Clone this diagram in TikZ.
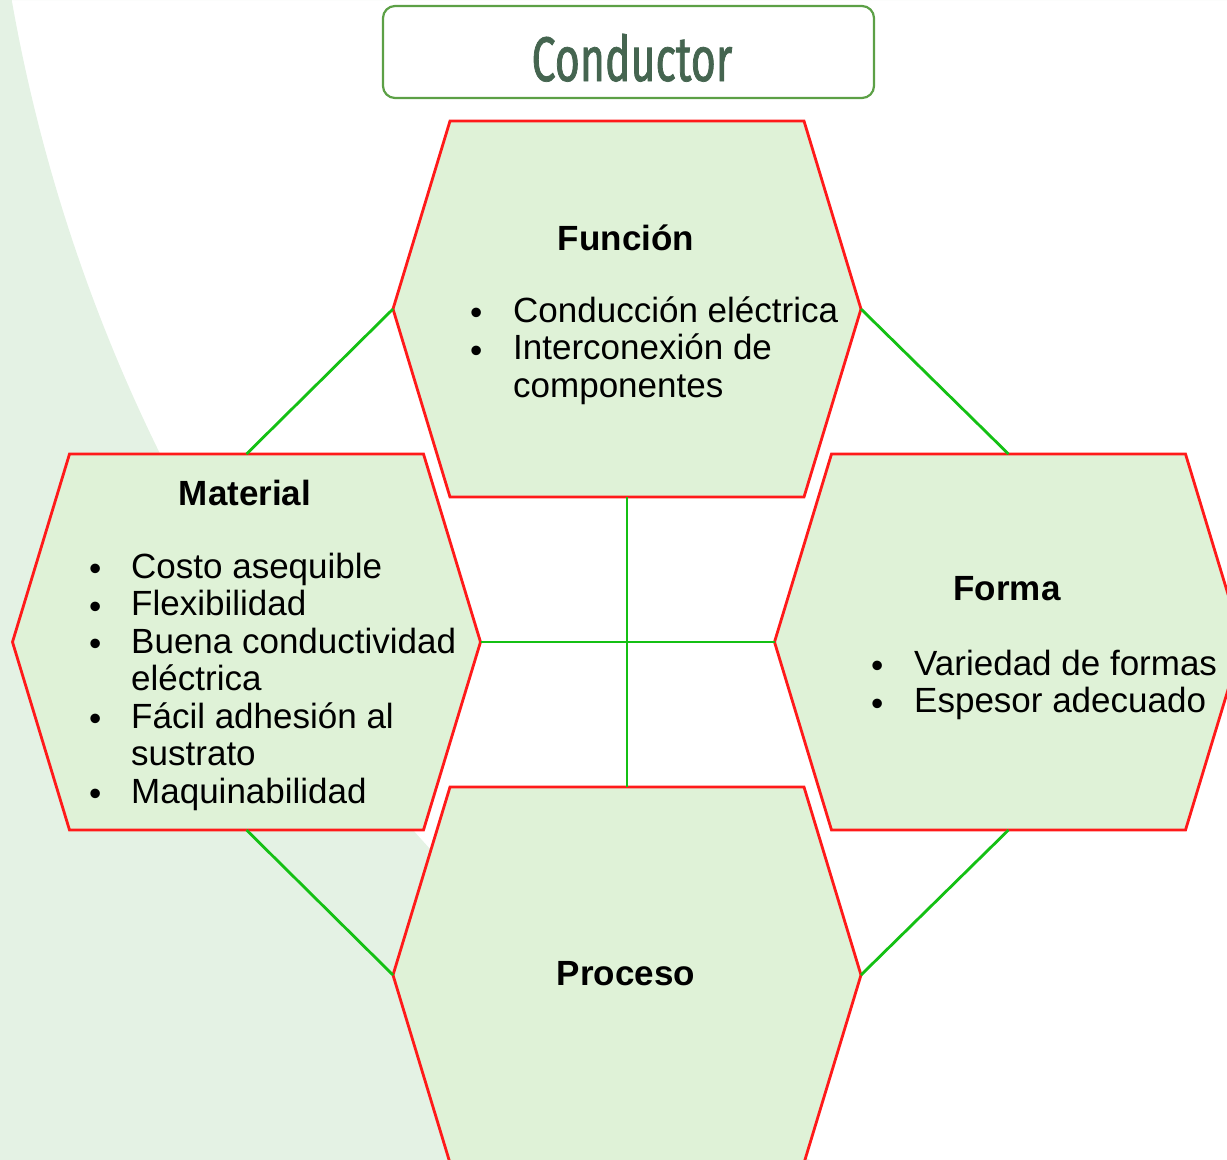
\documentclass[tikz,border=0pt]{standalone}
\usepackage{fontspec}
\usepackage{xcolor}
\setmainfont{Liberation Sans}
\newfontfamily\titlefont[FakeStretch=0.68, FakeBold=1.2]{Fira Sans}

\definecolor{bgshade}{HTML}{E4F2E4}
\definecolor{hexfill}{HTML}{DFF2D7}
\definecolor{hexred}{HTML}{FF1A1A}
\definecolor{linkgreen}{HTML}{14C014}
\definecolor{titlegreen}{HTML}{5CA046}
\definecolor{titleink}{HTML}{456550}

\tikzset{
  hexcell/.style={draw=hexred, fill=hexfill, line width=2.8pt, line join=miter},
  link/.style={draw=linkgreen, line width=2.8pt},
  titlebox/.style={draw=titlegreen, line width=2.2pt, rounded corners=12pt, minimum width=491pt, minimum height=92pt},
  titletxt/.style={font=\titlefont\fontsize{63}{66}\selectfont, text=titleink, anchor=base, inner sep=0},
  headtxt/.style={font=\bfseries\fontsize{35}{38}\selectfont, anchor=base, inner sep=0},
  listtxt/.style={font=\fontsize{35}{37.5}\selectfont, anchor=base west, inner sep=0, align=left},
}

% round bullet, set a little low
\newcommand{\dotmark}{\raisebox{-2.5pt}{\textbullet}}

% hexagon: name, centre x, centre y
\newcommand{\hexcell}[3]{%
  \draw[hexcell] (#2-234,#3) -- (#2-177,#3-188) -- (#2+177,#3-188) -- (#2+234,#3)
    -- (#2+177,#3+188) -- (#2-177,#3+188) -- cycle;
  \coordinate (#1-l) at (#2-234,#3);
  \coordinate (#1-r) at (#2+234,#3);
  \coordinate (#1-t) at (#2,#3-188);
  \coordinate (#1-b) at (#2,#3+188);
}

\begin{document}
\begin{tikzpicture}[x=1pt, y=-1pt]
  \useasboundingbox (0,0) rectangle (1227,1160);
  \clip (0,0) rectangle (1227,1160);

  % Background sweep
  \fill[bgshade, even odd rule] (0,0) rectangle (1227,1160) (1684,-296) circle[radius=1698pt];

  % Title
  \node[titlebox] (title) at (628.5,52) {};
  \node[titletxt] (title-txt) at (632,81) {Conductor};

  % Cells
  \hexcell{fun}{627}{309}
  \hexcell{mat}{246.5}{642}
  \hexcell{for}{1008.5}{642}
  \hexcell{pro}{627}{975}

  % Connectors
  \draw[link] (fun-l) -- (mat-t);
  \draw[link] (fun-r) -- (for-t);
  \draw[link] (fun-b) -- (pro-t);
  \draw[link] (mat-r) -- (for-l);
  \draw[link] (mat-b) -- (pro-l);
  \draw[link] (for-b) -- (pro-r);

  % Función
  \node[headtxt] (fun-head) at (626,250) {Función};
  \node[listtxt] (fun-list) at (470,322) {\begin{tabular}[t]{@{}p{43pt}@{}l@{}}
    \dotmark & Conducción eléctrica\\
    \dotmark & Interconexión de\\
             & componentes
  \end{tabular}};

  % Material
  \node[headtxt] (mat-head) at (245,505) {Material};
  \node[listtxt] (mat-list) at (89,578) {\begin{tabular}[t]{@{}p{42pt}@{}l@{}}
    \dotmark & Costo asequible\\
    \dotmark & Flexibilidad\\
    \dotmark & Buena conductividad\\
             & eléctrica\\
    \dotmark & Fácil adhesión al\\
             & sustrato\\
    \dotmark & Maquinabilidad
  \end{tabular}};

  % Forma
  \node[headtxt] (for-head) at (1007,600) {Forma};
  \node[listtxt] (for-list) at (871,675) {\begin{tabular}[t]{@{}p{43pt}@{}l@{}}
    \dotmark & Variedad de formas\\
    \dotmark & Espesor adecuado
  \end{tabular}};

  % Proceso
  \node[headtxt] (pro-head) at (626,985) {Proceso};
\end{tikzpicture}
\end{document}
